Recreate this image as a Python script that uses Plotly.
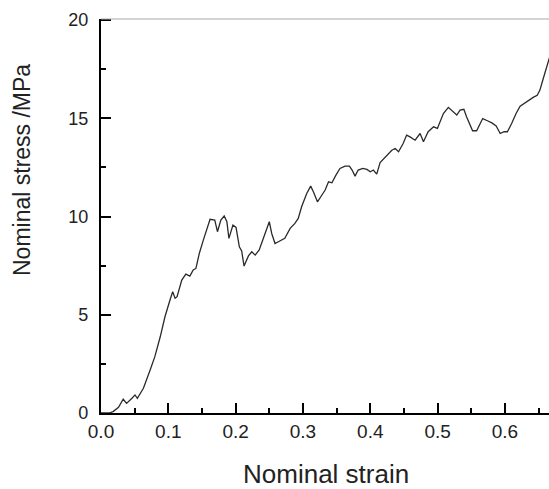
import plotly.graph_objects as go

strain = [0.0, 0.012, 0.018, 0.026, 0.033, 0.038, 0.046, 0.0505, 0.054, 0.060,
          0.063, 0.073, 0.080, 0.088, 0.095, 0.1025, 0.1065, 0.110, 0.113, 0.120,
          0.126, 0.132, 0.137, 0.141, 0.146, 0.152, 0.157, 0.162, 0.169, 0.173,
          0.178, 0.183, 0.187, 0.190, 0.196, 0.2006, 0.2055, 0.209, 0.2125, 0.219,
          0.224, 0.229, 0.235, 0.241, 0.246, 0.250, 0.2536, 0.2585, 0.2635, 0.2685,
          0.273, 0.281, 0.288, 0.293, 0.298, 0.3056, 0.3115, 0.3155, 0.3215, 0.3265,
          0.333, 0.338, 0.343, 0.349, 0.355, 0.3625, 0.369, 0.373, 0.3774, 0.382,
          0.389, 0.395, 0.400, 0.4046, 0.4096, 0.4146, 0.4205, 0.427, 0.432, 0.437,
          0.442, 0.449, 0.454, 0.459, 0.4666, 0.474, 0.479, 0.486, 0.494, 0.4997,
          0.5086, 0.516, 0.5235, 0.5285, 0.5334, 0.539, 0.543, 0.548, 0.552, 0.558,
          0.563, 0.567, 0.574, 0.5806, 0.587, 0.593, 0.5988, 0.6037, 0.610, 0.6166,
          0.6226, 0.6285, 0.635, 0.642, 0.648, 0.652, 0.657, 0.662, 0.6657, 0.668]

stress = [0.0, 0.0, 0.07, 0.29, 0.70, 0.49, 0.75, 0.92, 0.75, 1.14,
          1.26, 2.19, 2.87, 3.88, 4.90, 5.75, 6.17, 5.84, 5.92, 6.77,
          7.07, 6.97, 7.28, 7.36, 8.12, 8.80, 9.40, 9.86, 9.82, 9.23,
          9.82, 10.03, 9.74, 8.89, 9.57, 9.45, 8.46, 8.25, 7.48, 8.00,
          8.21, 8.04, 8.30, 8.89, 9.40, 9.74, 9.14, 8.63, 8.72, 8.80,
          8.89, 9.40, 9.65, 9.91, 10.50, 11.18, 11.55, 11.26, 10.75, 11.01,
          11.35, 11.77, 11.72, 12.11, 12.45, 12.57, 12.57, 12.37, 12.06, 12.37,
          12.45, 12.40, 12.28, 12.37, 12.16, 12.75, 12.96, 13.21, 13.38, 13.47,
          13.30, 13.73, 14.15, 14.06, 13.89, 14.23, 13.81, 14.32, 14.57, 14.49,
          15.25, 15.56, 15.33, 15.17, 15.42, 15.46, 15.08, 14.66, 14.37, 14.37,
          14.74, 14.99, 14.88, 14.77, 14.61, 14.23, 14.32, 14.32, 14.74, 15.25,
          15.62, 15.76, 15.93, 16.07, 16.18, 16.44, 17.03, 17.62, 18.05, 18.30]

x_ticks = [0.0, 0.1, 0.2, 0.3, 0.4, 0.5, 0.6]
x_tick_labels = ["0.0", "0.1", "0.2", "0.3", "0.4", "0.5", "0.6"]
x_minor_ticks = [0.05, 0.15, 0.25, 0.35, 0.45, 0.55, 0.65]
y_ticks = [0, 5, 10, 15, 20]
y_tick_labels = ["0", "5", "10", "15", "20"]
y_minor_ticks = [2.5, 7.5, 12.5, 17.5]

X_RANGE = [0, 0.6655]
Y_RANGE = [0, 20.06]

FONT = "Liberation Sans, Arial, sans-serif"
TXT = "#222222"
AX = "black"

fig = go.Figure()
fig.add_trace(go.Scatter(
    x=strain, y=stress, mode="lines",
    line=dict(color="#2a2a2a", width=1.3),
    showlegend=False, hoverinfo="skip",
))
# empty trace that carries the minor-tick overlay axes
fig.add_trace(go.Scatter(x=[], y=[], xaxis="x2", yaxis="y2", mode="lines",
                         showlegend=False, hoverinfo="skip"))

fig.update_layout(
    xaxis=dict(
        range=X_RANGE, tickmode="array", tickvals=x_ticks, ticktext=x_tick_labels,
        showgrid=False, zeroline=False,
        showline=True, linecolor=AX, linewidth=2,
        ticks="inside", ticklen=10, tickwidth=2, tickcolor=AX,
        tickfont=dict(family=FONT, size=19, color=TXT),
    ),
    yaxis=dict(
        range=Y_RANGE, tickmode="array", tickvals=y_ticks,
        ticktext=[t + "\u2009\u2009" for t in y_tick_labels],
        showgrid=False, zeroline=False,
        showline=True, linecolor=AX, linewidth=2,
        ticks="inside", ticklen=10, tickwidth=2, tickcolor=AX,
        tickfont=dict(family=FONT, size=18, color=TXT),
    ),
    xaxis2=dict(
        overlaying="x", anchor="y", side="bottom", range=X_RANGE,
        tickmode="array", tickvals=x_minor_ticks, showticklabels=False,
        showgrid=False, zeroline=False, showline=False,
        ticks="inside", ticklen=5, tickwidth=2, tickcolor=AX,
    ),
    yaxis2=dict(
        overlaying="y", anchor="x", side="left", range=Y_RANGE,
        tickmode="array", tickvals=y_minor_ticks, showticklabels=False,
        showgrid=False, zeroline=False, showline=False,
        ticks="inside", ticklen=5, tickwidth=2, tickcolor=AX,
    ),
)

# top frame line (light gray)
fig.add_shape(type="line", xref="paper", yref="paper", x0=0, x1=1, y0=1, y1=1,
              line=dict(color="#aaaaaa", width=1.2))

fig.add_annotation(text="Nominal strain", xref="paper", yref="paper",
                   x=(326 - 101) / 448, y=-(474 - 413) / 394, showarrow=False,
                   xanchor="center", yanchor="middle",
                   font=dict(family=FONT, size=26, color=TXT))
fig.add_annotation(text="Nominal stress /MPa", xref="paper", yref="paper",
                   x=-(101 - 22) / 448, y=(413 - 170) / 394, showarrow=False,
                   xanchor="center", yanchor="middle", textangle=-90,
                   font=dict(family=FONT, size=23, color=TXT))

fig.update_layout(
    width=549, height=489,
    margin=dict(l=101, r=0, t=19, b=76),
    paper_bgcolor="white", plot_bgcolor="white",
)

fig.write_html("out.html")
